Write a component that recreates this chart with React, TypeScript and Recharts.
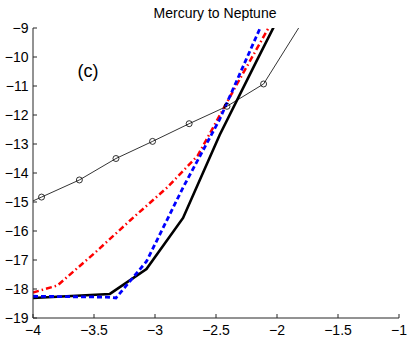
import React from 'react';
import { LineChart, Line, XAxis, YAxis } from 'recharts';

// Thin black line with circle markers
const circleX = [-4.23, -3.93, -3.62, -3.32, -3.02, -2.72, -2.41, -2.11, -1.51];
const circleY = [-15.4, -14.83, -14.24, -13.5, -12.91, -12.3, -11.7, -10.93, -6.9];

// Thick solid black line
const blackX = [-4, -3.37, -3.07, -2.77, -2.47, -2.17, -1.87];
const blackY = [-18.31, -18.17, -17.31, -15.55, -12.69, -10.16, -7.66];

// Blue dashed line
const blueX = [-4, -3.4, -3.32, -3.07, -2.77, -2.47, -2.17, -1.87];
const blueY = [-18.25, -18.28, -18.31, -17.05, -14.5, -12.15, -9.3, -6.5];

// Red dash-dot line
const redX = [-4, -3.8, -3.5, -3.2, -2.9, -2.65, -2.35, -2.05];
const redY = [-18.12, -17.88, -16.78, -15.62, -14.5, -13.4, -11.1, -8.85];

const xTicks = [-4, -3.5, -3, -2.5, -2, -1.5, -1];
const yTicks = [-19, -18, -17, -16, -15, -14, -13, -12, -11, -10, -9];

const title = 'Mercury to Neptune';
const panelLabel = '(c)';

const toPts = (xs: number[], ys: number[]) => xs.map((x, i) => ({ x, y: ys[i] }));

const FONT = '"Liberation Sans", Arial, Helvetica, sans-serif';
const TICK_LEN = 4;
const AXIS_COLOR = '#262626';
const fmt = (v: number) => String(v).replace('-', '\u2212');

const BottomTick = (props: any) => {
  const { x, y, payload } = props;
  return (
    <g>
      <line x1={x} x2={x} y1={y} y2={y - TICK_LEN} stroke={AXIS_COLOR} strokeWidth={1} />
      <text x={x} y={y + 17} textAnchor="middle" fontSize={14} fontFamily={FONT} fill="#000">
        {fmt(payload.value)}
      </text>
    </g>
  );
};

const LeftTick = (props: any) => {
  const { x, y, payload } = props;
  return (
    <g>
      <line x1={x} x2={x + TICK_LEN} y1={y} y2={y} stroke={AXIS_COLOR} strokeWidth={1} />
      <text x={x - 4.5} y={y + 5} textAnchor="end" fontSize={14} fontFamily={FONT} fill="#000">
        {fmt(payload.value)}
      </text>
    </g>
  );
};

const TopTick = (props: any) => {
  const { x, y } = props;
  return <line x1={x} x2={x} y1={y} y2={y + TICK_LEN} stroke={AXIS_COLOR} strokeWidth={1} />;
};

const RightTick = (props: any) => {
  const { x, y } = props;
  return <line x1={x} x2={x - TICK_LEN} y1={y} y2={y} stroke={AXIS_COLOR} strokeWidth={1} />;
};

export default function App() {
  return (
    <div style={{ position: 'absolute', left: 0, top: 0, width: 407, height: 339, background: '#fff' }}>
      <LineChart
        width={407}
        height={339}
        margin={{ top: 28, right: 8, bottom: 0, left: 0 }}
      >
        <XAxis
          xAxisId="b"
          type="number"
          dataKey="x"
          domain={[-4, -1]}
          ticks={xTicks}
          interval={0}
          allowDataOverflow
          height={21}
          tickSize={0}
          tickMargin={0}
          tickLine={false}
          axisLine={{ stroke: AXIS_COLOR, strokeWidth: 1 }}
          tick={BottomTick}
        />
        <XAxis
          xAxisId="t"
          orientation="top"
          type="number"
          dataKey="x"
          domain={[-4, -1]}
          ticks={xTicks}
          interval={0}
          allowDataOverflow
          height={0}
          tickSize={0}
          tickMargin={0}
          tickLine={false}
          axisLine={{ stroke: AXIS_COLOR, strokeWidth: 1 }}
          tick={TopTick}
        />
        <YAxis
          yAxisId="l"
          type="number"
          dataKey="y"
          domain={[-19, -9]}
          ticks={yTicks}
          interval={0}
          allowDataOverflow
          width={33}
          tickSize={0}
          tickMargin={0}
          tickLine={false}
          axisLine={{ stroke: AXIS_COLOR, strokeWidth: 1 }}
          tick={LeftTick}
        />
        <YAxis
          yAxisId="r"
          orientation="right"
          type="number"
          dataKey="y"
          domain={[-19, -9]}
          ticks={yTicks}
          interval={0}
          allowDataOverflow
          width={0}
          tickSize={0}
          tickMargin={0}
          tickLine={false}
          axisLine={{ stroke: AXIS_COLOR, strokeWidth: 1 }}
          tick={RightTick}
        />
        <Line
          xAxisId="b"
          yAxisId="l"
          data={toPts(redX, redY)}
          dataKey="y"
          type="linear"
          stroke="#ff0000"
          strokeWidth={2.5}
          strokeDasharray="6 3 1.5 3"
          dot={false}
          isAnimationActive={false}
        />
        <Line
          xAxisId="b"
          yAxisId="l"
          data={toPts(blackX, blackY)}
          dataKey="y"
          type="linear"
          stroke="#000000"
          strokeWidth={2.6}
          dot={false}
          isAnimationActive={false}
        />
        <Line
          xAxisId="b"
          yAxisId="l"
          data={toPts(blueX, blueY)}
          dataKey="y"
          type="linear"
          stroke="#0000ff"
          strokeWidth={2.8}
          strokeDasharray="5 3"
          dot={false}
          isAnimationActive={false}
        />
        <Line
          xAxisId="b"
          yAxisId="l"
          data={toPts(circleX, circleY)}
          dataKey="y"
          type="linear"
          stroke="#000000"
          strokeWidth={0.8}
          dot={{ r: 3, stroke: '#000', strokeWidth: 0.8, fill: 'none' }}
          isAnimationActive={false}
        />
      </LineChart>
      <div
        style={{
          position: 'absolute', left: 115, top: 5.5, width: 200, textAlign: 'center',
          fontFamily: FONT, fontSize: 14, lineHeight: '14px', color: '#000', whiteSpace: 'nowrap',
        }}
      >
        {title}
      </div>
      <div
        style={{
          position: 'absolute', left: 68, top: 62, width: 40, textAlign: 'center',
          fontFamily: FONT, fontSize: 18, lineHeight: '18px', color: '#000',
        }}
      >
        {panelLabel}
      </div>
    </div>
  );
}
